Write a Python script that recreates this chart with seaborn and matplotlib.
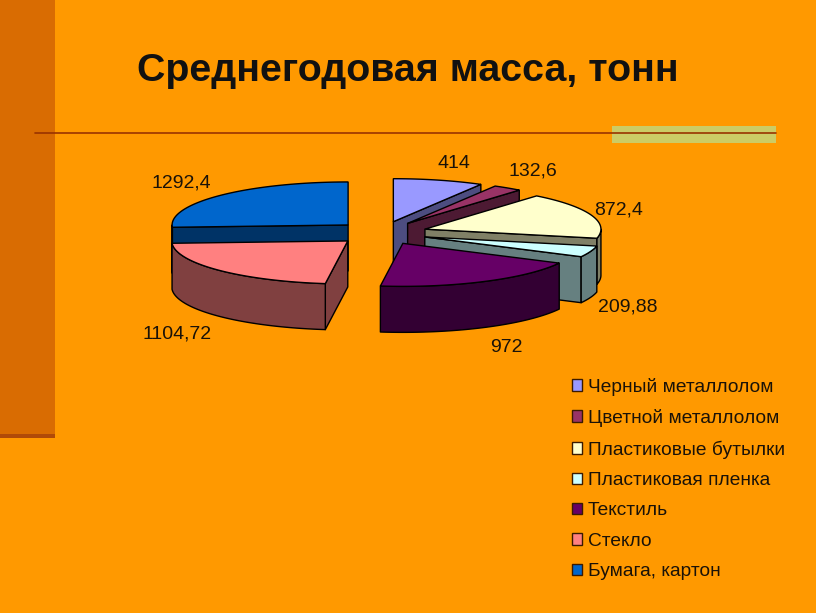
import numpy as np
import seaborn as sns
import matplotlib.pyplot as plt
from matplotlib.patches import Patch, Rectangle

# Chart data
categories = ['Черный металлолом', 'Цветной металлолом', 'Пластиковые бутылки',
              'Пластиковая пленка', 'Текстиль', 'Стекло', 'Бумага, картон']
values = [414, 132.6, 872.4, 209.88, 972, 1104.72, 1292.4]
value_labels = ['414', '132,6', '872,4', '209,88', '972', '1104,72', '1292,4']
title = 'Среднегодовая масса, тонн'

# Style
slice_colors = ['#9999FF', '#993366', '#FFFFCC', '#CCFFFF', '#660066', '#FF8080', '#0066CC']
label_pos = [(454, 163), (533, 171), (619, 210), (628, 307), (506, 348), (177, 334), (181, 183)]
bg = '#FF9900'

# Pie geometry, in pixels
cx, cy = 381.5, 233
rx, ry = 176, 43
depth = 46
explode_x, explode_y = 46, 11.7
# back to front: paper has to go under glass
draw_order = [0, 1, 2, 3, 4, 6, 5]

sns.set_theme(style='white', rc={'figure.facecolor': bg, 'axes.facecolor': bg})
plt.rcParams['font.family'] = ['Liberation Sans', 'DejaVu Sans']

fig = plt.figure(figsize=(8.16, 6.13), dpi=100)
ax = fig.add_axes([0, 0, 1, 1])
ax.set_xlim(0, 816)
ax.set_ylim(613, 0)
ax.axis('off')

# Slide decoration
ax.add_patch(Rectangle((0, 0), 55, 434, color='#D96C02', lw=0))
ax.add_patch(Rectangle((0, 434), 55, 4, color='#B04A08', lw=0))
ax.add_patch(Rectangle((612, 126), 164, 17, color='#CCCC66', lw=0))
ax.plot([35, 776], [133, 133], color='#993300', lw=1.2)

ax.text(137, 71, title, fontsize=28.4, fontweight='bold', color='#111111', va='center', ha='left')


def ellipse(ox, oy, ang):
    return ox + rx * np.sin(ang), oy - ry * np.cos(ang)


def face(xs, ys, color):
    # extruded strip under a line on the top surface
    xs = np.asarray(xs)
    ys = np.asarray(ys)
    ax.fill(np.r_[xs, xs[::-1]], np.r_[ys, ys[::-1] + depth],
            facecolor=color, edgecolor='black', lw=1, joinstyle='round')


palette = sns.color_palette(slice_colors)
edges = np.cumsum([0] + values) / sum(values) * 2 * np.pi

for i in draw_order:
    color = palette[i]
    a0, a1 = edges[i], edges[i + 1]
    mid = (a0 + a1) / 2
    ox = cx + explode_x * np.sin(mid)
    oy = cy - explode_y * np.cos(mid)
    side = tuple(c * 0.5 for c in color)

    # radial walls, only the ones turned to the viewer
    if np.sin(a0) < -1e-6:
        x, y = ellipse(ox, oy, a0)
        face([ox, x], [oy, y], side)
    if np.sin(a1) > 1e-6:
        x, y = ellipse(ox, oy, a1)
        face([ox, x], [oy, y], side)

    # outer rim, front half only
    lo, hi = max(a0, np.pi / 2), min(a1, 3 * np.pi / 2)
    if hi > lo:
        x, y = ellipse(ox, oy, np.linspace(lo, hi, 60))
        face(x, y, side)

    # top surface
    x, y = ellipse(ox, oy, np.linspace(a0, a1, 80))
    ax.fill(np.r_[ox, x], np.r_[oy, y], facecolor=color, edgecolor='black', lw=1)

for text, (x, y) in zip(value_labels, label_pos):
    ax.text(x, y, text, fontsize=14, color='#1a1208', ha='center', va='center')

handles = [Patch(facecolor=c, edgecolor='#3a1a00', lw=1) for c in palette]
ax.legend(handles, categories, loc='upper left', bbox_to_anchor=(564, 370),
          bbox_transform=ax.transData, frameon=False, fontsize=13.75,
          handlelength=0.55, handleheight=0.55, handletextpad=0.3,
          labelspacing=0.7, labelcolor='#1a1208', borderpad=0.4, borderaxespad=0)

fig.savefig('out.png', dpi=100, facecolor=bg)
